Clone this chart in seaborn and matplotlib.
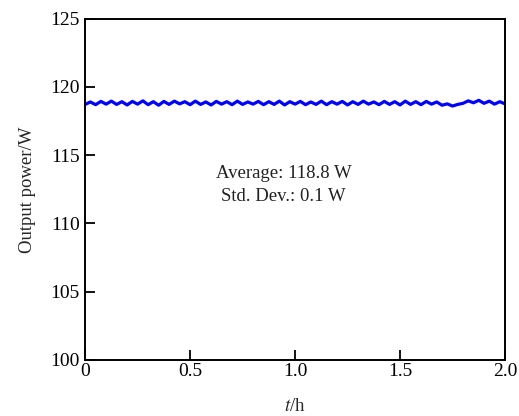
import numpy as np
import pandas as pd
import seaborn as sns
import matplotlib.pyplot as plt

# ---------- data ----------
time_h = [round(i * 0.025, 3) for i in range(81)]
power_w = [
    118.72, 118.90, 118.70, 118.94, 118.74, 118.96, 118.72, 118.92, 118.68, 118.94,
    118.74, 118.98, 118.70, 118.92, 118.66, 118.94, 118.72, 118.96, 118.76, 118.92,
    118.70, 118.96, 118.72, 118.90, 118.68, 118.94, 118.74, 118.92, 118.70, 118.96,
    118.72, 118.90, 118.74, 118.94, 118.70, 118.92, 118.72, 118.96, 118.68, 118.92,
    118.74, 118.94, 118.70, 118.90, 118.72, 118.96, 118.70, 118.92, 118.74, 118.94,
    118.68, 118.92, 118.72, 118.96, 118.74, 118.90, 118.70, 118.94, 118.72, 118.92,
    118.68, 118.96, 118.72, 118.92, 118.70, 118.94, 118.74, 118.90, 118.66, 118.76,
    118.60, 118.72, 118.80, 118.98, 118.84, 119.02, 118.80, 118.96, 118.74, 118.92,
    118.76,
]
avg_text = "Average: 118.8 W"
std_text = "Std. Dev.: 0.1 W"

df = pd.DataFrame({"t": time_h, "P": power_w})

# ---------- style ----------
sns.set_theme(style="ticks")
plt.rcParams["font.family"] = ["Liberation Serif", "DejaVu Serif"]
plt.rcParams["mathtext.fontset"] = "stix"

fig, ax = plt.subplots(figsize=(5.19, 4.16), dpi=100)
fig.subplots_adjust(left=0.164, right=0.973, top=0.955, bottom=0.135)

sns.lineplot(data=df, x="t", y="P", color="#0000ff", linewidth=2.3, ax=ax)

ax.set_xlim(0, 2.0)
ax.set_ylim(100, 125)
ax.set_xticks([0, 0.5, 1.0, 1.5, 2.0])
ax.set_xticklabels(["0", "0.5", "1.0", "1.5", "2.0"])
ax.set_yticks([100, 105, 110, 115, 120, 125])

ax.tick_params(direction="in", length=7, width=1.3, labelsize=14,
               colors="black", pad=2)
ax.tick_params(axis="y", pad=4)
for side in ["top", "right", "left", "bottom"]:
    ax.spines[side].set_visible(True)
    ax.spines[side].set_linewidth(1.4)
    ax.spines[side].set_color("black")

ax.set_xlabel("$t$/h", fontsize=13.5, labelpad=13)
ax.set_ylabel("Output power/W", fontsize=13.5, labelpad=10)

ax.text(0.945, 112.8, avg_text + "\n" + std_text, ha="center", va="center",
        fontsize=13.5, linespacing=1.45, color="#222222")

fig.savefig("out.png", dpi=100)
